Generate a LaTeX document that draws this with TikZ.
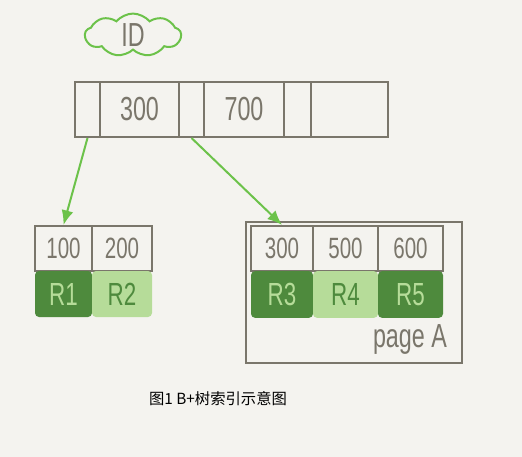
\documentclass[tikz,border=0pt]{standalone}
\usepackage{fontspec}
\usepackage{graphicx}
\setmainfont{Liberation Sans}
\newfontfamily\cjk{Noto Sans CJK SC}
\usetikzlibrary{shapes.symbols,arrows.meta}
\definecolor{paper}{HTML}{F4F3EF}
\definecolor{inkgray}{HTML}{7A766B}
\definecolor{leafgreen}{HTML}{6CC24A}
\definecolor{darkrow}{HTML}{4E8A3D}
\definecolor{lightrow}{HTML}{B6DC99}
\newcommand{\hand}[2]{\fontsize{#1}{#1}\selectfont\scalebox{0.7}[1]{#2}}
\tikzset{
  cell/.style={draw=inkgray,line width=1.5pt,inner sep=0pt,text=inkgray},
  rowdark/.style={fill=darkrow,inner sep=0pt,rounded corners=3pt,text=lightrow},
  rowlight/.style={fill=lightrow,inner sep=0pt,rounded corners=3pt,text=darkrow},
  pointer/.style={draw=leafgreen,line width=1.5pt,-{Latex[length=11pt,width=9pt]}},
}
\begin{document}
\begin{tikzpicture}[x=0.75pt,y=-0.75pt]
\useasboundingbox[fill=paper] (0,0) rectangle (522,457);

% index key
\node[cloud,cloud puffs=9,cloud puff arc=100,aspect=2.4,draw=leafgreen,line width=1.5pt,
  minimum width=72pt,minimum height=32pt,inner sep=0pt,text=inkgray] (key) at (133,35) {\hand{25}{ID}};

% root page
\node[cell,minimum width=18.75pt,minimum height=41.25pt] (t0) at (87.5,109.5) {};
\node[cell,minimum width=59.25pt,minimum height=41.25pt] (t1) at (139.5,109.5) {\hand{25}{300}};
\node[cell,minimum width=18.75pt,minimum height=41.25pt] (t2) at (191.5,109.5) {};
\node[cell,minimum width=60pt,minimum height=41.25pt] (t3) at (244,109.5) {\hand{25}{700}};
\node[cell,minimum width=20.25pt,minimum height=41.25pt] (t4) at (297.5,109.5) {};
\node[cell,minimum width=57.75pt,minimum height=41.25pt] (t5) at (349.5,109.5) {};

% left leaf
\node[cell,minimum width=42.75pt,minimum height=33.75pt] (l1) at (63.5,248.5) {\hand{22}{100}};
\node[cell,minimum width=45pt,minimum height=33.75pt] (l2) at (122,248.5) {\hand{22}{200}};
\node[rowdark,minimum width=42.75pt,minimum height=34.5pt] (lr1) at (63.5,294) {\hand{24}{R1}};
\node[rowlight,minimum width=45pt,minimum height=34.5pt] (lr2) at (122,294) {\hand{24}{R2}};

% page A
\node[draw=inkgray,line width=1.5pt,minimum width=162pt,minimum height=105.75pt,inner sep=0pt] (pageA) at (354,292.5) {};
\node[cell,minimum width=46.5pt,minimum height=33.75pt] (r1) at (282,248.5) {\hand{22}{300}};
\node[cell,minimum width=48.75pt,minimum height=33.75pt] (r2) at (345.5,248.5) {\hand{22}{500}};
\node[cell,minimum width=48.75pt,minimum height=33.75pt] (r3) at (410.5,248.5) {\hand{22}{600}};
\node[rowdark,minimum width=46.5pt,minimum height=35pt] (rr1) at (282,294.5) {\hand{24}{R3}};
\node[rowlight,minimum width=48.75pt,minimum height=35pt] (rr2) at (345.5,294.5) {\hand{24}{R4}};
\node[rowdark,minimum width=48.75pt,minimum height=35pt] (rr3) at (410.5,294.5) {\hand{24}{R5}};
\node[text=inkgray] (pagelabel) at (410,339) {\hand{25}{page A}};

% pointers
\draw[pointer] (t0.south) -- (l1.north);
\draw[pointer] (t2.south) -- (r1.north);

\node (caption) at (218,399) {\cjk\fontsize{11.5}{11.5}\selectfont 图1 B+树索引示意图};
\end{tikzpicture}
\end{document}
